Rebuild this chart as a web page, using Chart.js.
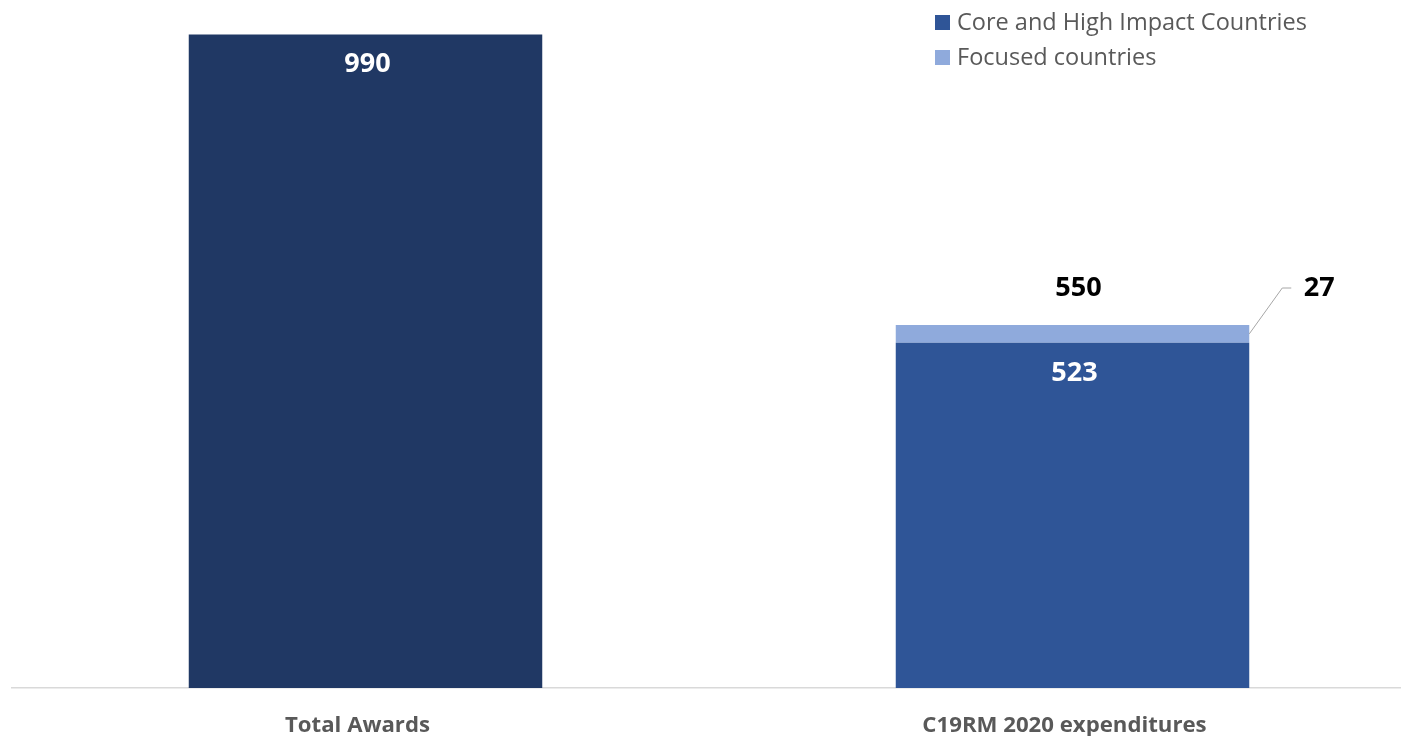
<!DOCTYPE html>
<html>
<head>
<meta charset="utf-8">
<script src="https://cdn.jsdelivr.net/npm/chart.js@4"></script>
<style>
  html, body { margin: 0; padding: 0; background: #fff; overflow: hidden; }
  #wrap { width: 1401px; height: 736px; overflow: hidden; }
</style>
</head>
<body>
<div id="wrap"><canvas id="chart" width="1426" height="736"></canvas></div>
<script>
// --- data ---
const categories = ['Total Awards', 'C19RM 2020 expenditures'];
const seriesNames = ['Core and High Impact Countries', 'Focused countries'];
const coreValues = [990, 523];
const focusedValues = [null, 27];

const barColors = ['#203864', '#2F5597'];   // first bar is darker navy
const focusedColor = '#8FAADC';
const legendColors = ['#2F5597', '#8FAADC'];
const FONT = '"Open Sans", Lato, sans-serif';

// value labels (inside / total above / leader-lined side label)
const barLabels = {
    id: 'barLabels',
    afterDatasetsDraw(chart) {
        const ctx = chart.ctx;
        const coreMeta = chart.getDatasetMeta(0);
        const focMeta = chart.getDatasetMeta(1);
        ctx.save();
        ctx.textAlign = 'center';
        ctx.textBaseline = 'middle';
        ctx.font = `bold 27px ${FONT}`;

        coreMeta.data.forEach((bar, i) => {
            const v = coreValues[i];
            if (v == null) return;
            ctx.fillStyle = '#ffffff';
            ctx.fillText(String(v), bar.x + 2, bar.y + 30);
        });

        focMeta.data.forEach((bar, i) => {
            const v = focusedValues[i];
            if (v == null) return;
            const total = coreValues[i] + v;
            const right = bar.x + bar.width / 2;
            const labelY = bar.y - 37;
            // total above stack
            ctx.fillStyle = '#000000';
            ctx.fillText(String(total), bar.x + 6, labelY);
            // leader line
            const midY = (bar.y + bar.base) / 2;
            ctx.strokeStyle = '#A6A6A6';
            ctx.lineWidth = 1;
            ctx.beginPath();
            ctx.moveTo(right, midY);
            ctx.lineTo(right + 33, labelY);
            ctx.lineTo(right + 42, labelY);
            ctx.stroke();
            ctx.fillText(String(v), right + 70, labelY);
        });
        ctx.restore();
    }
};

// legend in the top right corner
const cornerLegend = {
    id: 'cornerLegend',
    afterDraw(chart) {
        const ctx = chart.ctx;
        ctx.save();
        ctx.font = `23.5px ${FONT}`;
        ctx.textBaseline = 'middle';
        ctx.textAlign = 'left';
        chart.data.datasets.forEach((ds, i) => {
            const y = 23 + i * 35;
            ctx.fillStyle = legendColors[i];
            ctx.fillRect(935, y - 8, 15, 15);
            ctx.fillStyle = '#595959';
            ctx.fillText(ds.label, 957, y);
        });
        ctx.restore();
    }
};

new Chart(document.getElementById('chart'), {
    type: 'bar',
    data: {
        labels: categories,
        datasets: [
            { label: seriesNames[0], data: coreValues, backgroundColor: barColors },
            { label: seriesNames[1], data: focusedValues, backgroundColor: focusedColor }
        ]
    },
    options: {
        responsive: false,
        animation: false,
        devicePixelRatio: 1,
        layout: { padding: { top: 28, left: 12, right: 0, bottom: 0 } },
        datasets: { bar: { barPercentage: 1, categoryPercentage: 0.5 } },
        plugins: { legend: { display: false }, tooltip: { enabled: false } },
        scales: {
            x: {
                stacked: true,
                grid: { display: false, drawTicks: false },
                border: { display: true, color: '#D9D9D9', width: 1.5 },
                ticks: { color: '#595959', font: { family: FONT, size: 22.2, weight: 'bold' }, padding: 24, labelOffset: -8 },
                afterFit: (scale) => { scale.height = 48; }
            },
            y: {
                stacked: true,
                display: false,
                min: 0,
                max: 1000
            }
        }
    },
    plugins: [barLabels, cornerLegend]
});
</script>
</body>
</html>
